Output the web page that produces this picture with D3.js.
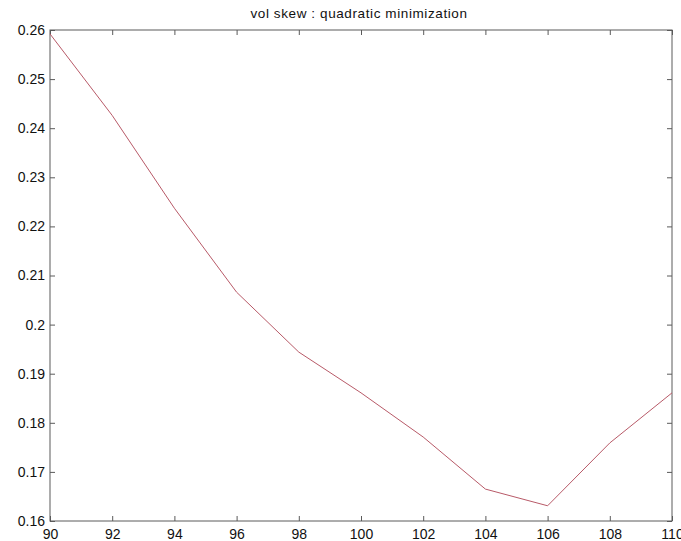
<!DOCTYPE html>
<html><head><meta charset="utf-8">
<script src="https://cdn.jsdelivr.net/npm/d3@7"></script>
<style>html,body{margin:0;padding:0;background:#fff;overflow:hidden}svg{display:block;overflow:visible}</style>
</head><body>
<script>
const strikes = [90, 92, 94, 96, 98, 100, 102, 104, 106, 108, 110];
const vols = [0.2592, 0.2426, 0.2237, 0.2066, 0.1944, 0.1861, 0.1771, 0.1665, 0.1631, 0.1759, 0.1861];
const xTicks = [90, 92, 94, 96, 98, 100, 102, 104, 106, 108, 110];
const yTicks = [0.16, 0.17, 0.18, 0.19, 0.2, 0.21, 0.22, 0.23, 0.24, 0.25, 0.26];
const title = "vol skew : quadratic minimization";

const W = 681, H = 541;
const L = 50, R = 672, T = 30, B = 521;
const svg = d3.select("body").append("svg").attr("width", W).attr("height", H);
const x = d3.scaleLinear().domain([90, 110]).range([L, R]);
const y = d3.scaleLinear().domain([0.16, 0.26]).range([B, T]);
const axCol = "#5a5a5a";
const font = "'Liberation Sans', Arial, sans-serif";
const fmt = d => String(+d.toFixed(2));

function style(g) {
  g.select(".domain").remove();
  g.selectAll(".tick line").attr("stroke", axCol);
  g.selectAll(".tick text").attr("fill", "#111").style("font-family", font).style("font-size", "14px");
}
svg.append("g").attr("transform", `translate(0,${B})`)
  .call(d3.axisBottom(x).tickValues(xTicks).tickSize(-5).tickPadding(8).tickFormat(d => d)).call(style);
svg.append("g").attr("transform", `translate(0,${T})`)
  .call(d3.axisTop(x).tickValues(xTicks).tickSize(-5).tickFormat("")).call(style);
svg.append("g").attr("transform", `translate(${L},0)`)
  .call(d3.axisLeft(y).tickValues(yTicks).tickSize(-5).tickPadding(5).tickFormat(fmt)).call(style);
svg.append("g").attr("transform", `translate(${R},0)`)
  .call(d3.axisRight(y).tickValues(yTicks).tickSize(-5).tickFormat("")).call(style);

svg.append("rect").attr("x", L).attr("y", T).attr("width", R - L).attr("height", B - T)
  .attr("fill", "none").attr("stroke", axCol).attr("stroke-width", 1);

const line = d3.line().x((d, i) => x(strikes[i])).y(d => y(d));
svg.append("path").datum(vols).attr("d", line).attr("fill", "none")
  .attr("stroke", "#b85a68").attr("stroke-width", 1);

svg.append("text").attr("x", 359).attr("y", 18).attr("text-anchor", "middle")
  .style("font-family", font).style("font-size", "13.5px").style("letter-spacing", "0.6px")
  .attr("fill", "#111").text(title);
</script>
</body></html>
